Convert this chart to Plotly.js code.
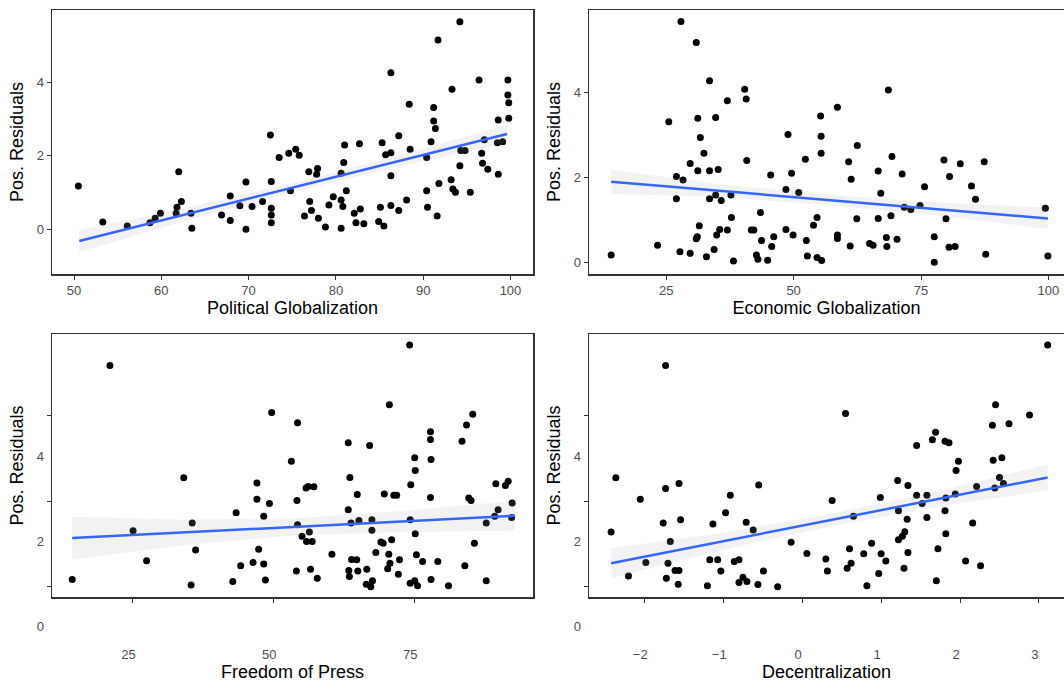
<!DOCTYPE html>
<html><head><meta charset="utf-8">
<script src="https://cdn.plot.ly/plotly-3.0.1.min.js"></script>
<style>html,body{margin:0;padding:0;background:#fff;} #chart{width:1064px;height:682px;}</style>
</head><body><div id="chart"></div>
<script>
// ---------- Panel 1: Political Globalization ----------
const polX = [50.5,53.3,56.1,58.7,59.9,59.3,62.0,61.8,61.7,62.3,63.5,63.4,66.9,67.9,67.9,69.0,69.7,69.7,70.4,71.6,72.5,72.6,72.6,72.6,72.6,73.5,74.6,75.4,75.8,74.8,76.9,77.9,77.8,77.0,77.2,76.4,78.0,78.8,79.7,79.2,80.6,80.6,80.8,80.6,80.9,81.0,81.2,82.1,82.8,82.7,82.3,83.2,85.1,85.3,85.7,86.3,86.3,86.3,86.3,84.9,85.5,87.2,87.2,88.1,88.4,88.5,90.4,90.4,90.5,90.9,91.2,91.2,91.4,91.7,91.8,91.6,93.2,93.3,93.4,93.7,94.2,94.2,94.3,94.8,95.4,96.4,96.7,96.8,97.4,97.0,98.6,98.6,98.5,99.7,99.7,99.8,99.8,99.1];
const polY = [1.18,0.2,0.09,0.18,0.44,0.3,1.57,0.6,0.44,0.76,0.03,0.44,0.39,0.91,0.24,0.64,1.29,0.0,0.62,0.76,2.57,1.3,0.57,0.39,0.18,1.96,2.07,2.18,2.02,1.05,1.57,1.66,1.5,0.76,0.51,0.36,0.3,0.06,0.89,0.66,1.53,0.8,0.62,0.03,1.82,2.3,1.05,0.44,0.55,2.33,0.18,0.15,0.6,2.36,2.03,2.09,4.27,1.46,0.65,0.21,0.09,0.51,2.55,0.8,3.41,2.18,1.96,1.05,0.6,2.39,3.32,2.95,2.75,5.16,1.25,0.36,1.35,3.82,1.1,1.01,5.66,1.73,2.15,2.15,1.01,4.07,2.07,1.8,1.64,2.44,2.98,1.5,2.36,4.07,3.66,3.45,3.03,2.39];
const polFitX = [50.6, 99.6];
const polFitY = [-0.32, 2.6];
const polBandX  = [50.6, 62.85, 75.1, 87.35, 99.6];
const polBandLo = [-0.62, 0.23, 1.02, 1.72, 2.35];
const polBandHi = [-0.02, 0.59, 1.26, 2.02, 2.85];
const polTicks = [50, 60, 70, 80, 90, 100];

// ---------- Panel 2: Economic Globalization ----------
const econX = [14.2,23.3,25.5,27.0,28.3,27.0,27.7,27.9,29.7,29.7,30.9,31.2,31.7,31.2,32.4,31.5,31.1,30.9,32.9,33.5,33.5,33.5,34.7,35.2,34.7,35.8,34.9,35.5,34.4,37.0,37.7,37.8,37.0,38.2,40.4,40.7,40.8,41.7,42.2,43.5,43.7,42.7,43.0,44.9,45.5,46.1,45.7,48.9,48.5,48.5,49.6,49.9,51.0,52.3,52.5,52.7,53.9,54.6,54.6,55.5,55.3,55.4,55.4,58.6,58.6,58.6,60.8,61.3,61.1,62.5,62.4,64.9,65.6,66.6,67.1,66.6,68.2,68.3,68.6,69.3,69.1,70.3,71.3,71.7,73.0,74.8,75.7,77.6,77.6,79.5,79.9,80.6,80.5,81.7,82.7,84.9,85.7,87.4,87.7,99.4,99.9];
const econY = [0.18,0.41,3.31,2.02,1.94,1.5,0.26,5.66,2.33,0.22,5.17,3.39,2.94,2.16,2.57,0.87,0.61,0.56,0.14,4.27,2.16,1.5,3.41,2.19,1.59,1.46,0.65,0.78,0.31,3.8,1.59,1.06,0.77,0.04,4.07,3.84,2.4,0.77,0.77,1.18,0.52,0.18,0.08,0.06,2.06,0.61,0.38,3.01,1.72,0.78,2.1,0.65,1.65,2.43,0.52,0.16,0.88,1.06,0.12,0.05,3.44,2.97,2.57,3.65,0.65,0.57,2.37,1.96,0.39,2.75,1.03,0.45,0.41,2.15,1.63,1.04,0.59,0.38,4.05,2.49,1.1,0.55,2.08,1.3,1.25,1.34,1.78,0.61,0.01,2.41,1.03,2.02,0.36,0.38,2.32,1.8,1.49,2.37,0.2,1.28,0.16];
const econFitX = [14.2, 99.9];
const econFitY = [1.9, 1.04];
const econBandX  = [14.2, 35.6, 57.05, 78.5, 99.9];
const econBandLo = [1.62, 1.54, 1.35, 1.11, 0.79];
const econBandHi = [2.18, 1.84, 1.59, 1.41, 1.29];
const econTicks = [25, 50, 75, 100];

// ---------- Panel 3: Freedom of Press ----------
const pressX = [14.3,21.0,25.1,27.5,34.1,35.6,36.2,35.4,42.8,43.4,44.2,46.4,47.1,47.1,47.4,48.3,48.3,48.6,49.3,49.7,53.2,54.3,54.2,54.3,54.1,55.1,55.8,56.2,57.2,56.4,55.9,56.9,56.6,57.8,60.4,63.3,63.6,63.3,63.8,63.9,64.8,64.9,65.2,63.4,63.5,65.0,66.6,67.1,67.5,67.5,66.5,67.3,67.6,68.2,69.1,69.5,69.7,70.5,70.7,70.3,71.0,71.4,71.9,70.6,72.4,72.2,74.2,74.4,74.3,75.1,75.2,75.2,75.4,74.3,75.1,75.6,76.5,77.9,77.9,78.0,77.9,78.0,79.2,81.1,83.5,84.3,84.0,85.4,84.7,85.1,85.7,87.8,87.8,89.3,89.9,89.5,91.2,91.7,92.4,92.3];
const pressY = [0.17,5.18,1.31,0.61,2.55,1.49,0.86,0.04,0.12,1.73,0.49,0.57,2.43,2.05,0.88,1.65,0.53,0.16,1.95,4.08,2.94,3.84,2.02,1.45,0.37,1.18,2.31,2.35,2.34,1.28,1.06,1.06,0.41,0.2,0.76,3.37,2.56,1.8,1.49,0.64,0.63,2.16,1.55,0.38,0.24,0.37,0.41,3.31,1.57,1.32,0.06,0.0,0.14,0.8,1.05,1.02,2.17,0.76,0.55,0.42,1.1,2.14,2.14,4.26,0.63,0.29,5.66,2.39,1.57,3.02,2.72,1.24,0.75,0.08,0.14,0.02,0.59,3.63,3.45,2.98,2.09,0.17,0.59,0.02,3.41,3.79,0.49,4.04,2.08,2.02,1.02,1.49,0.14,1.65,1.8,2.41,2.37,2.47,1.96,1.62];
const pressFitX = [14.3, 92.9];
const pressFitY = [1.14, 1.66];
const pressBandX  = [14.3, 33.95, 53.6, 73.25, 92.9];
const pressBandLo = [0.64, 0.97, 1.2, 1.28, 1.31];
const pressBandHi = [1.64, 1.57, 1.6, 1.78, 2.01];
const pressTicks = [25, 50, 75];

// ---------- Panel 4: Decentralization ----------
const decX = [-2.42,-2.36,-2.2,-2.05,-1.98,-1.76,-1.73,-1.73,-1.70,-1.72,-1.67,-1.61,-1.56,-1.56,-1.54,-1.57,-1.2,-1.17,-1.07,-1.13,-1.03,-0.97,-0.91,-0.86,-0.80,-0.80,-0.75,-0.71,-0.70,-0.62,-0.56,-0.55,-0.49,-0.31,-0.14,0.06,0.30,0.32,0.38,0.55,0.57,0.60,0.62,0.65,0.78,0.82,0.88,0.97,0.99,1.0,1.06,1.21,1.22,1.22,1.27,1.30,1.29,1.33,1.34,1.34,1.45,1.45,1.52,1.58,1.58,1.65,1.69,1.72,1.70,1.81,1.86,1.82,1.81,1.82,1.94,1.95,1.98,2.07,2.16,2.21,2.26,2.41,2.42,2.44,2.45,2.50,2.53,2.55,2.62,2.88,3.11];
const decY = [1.28,2.55,0.25,2.05,0.57,1.49,5.18,2.3,0.55,0.2,1.06,0.38,0.38,2.42,1.57,0.06,0.02,0.63,0.63,1.47,0.37,1.73,2.14,0.59,0.63,0.1,0.22,1.51,0.12,1.33,0.05,2.38,0.37,0.0,1.04,0.78,0.65,0.37,2.02,4.06,0.43,0.89,0.55,1.65,0.77,0.02,1.02,0.31,2.09,0.77,0.6,2.49,1.78,1.1,1.18,1.29,0.43,1.58,0.8,2.37,3.31,2.14,1.95,2.14,1.62,3.44,3.62,0.89,0.14,3.41,3.37,2.08,1.78,1.24,2.17,2.72,2.94,0.6,1.49,2.35,0.49,3.78,2.96,2.31,4.26,2.56,3.02,2.42,3.82,4.02,5.66];
const decFitX = [-2.42, 3.11];
const decFitY = [0.55, 2.56];
const decBandX  = [-2.42, -1.04, 0.345, 1.73, 3.11];
const decBandLo = [0.2, 0.85, 1.405, 1.88, 2.26];
const decBandHi = [0.9, 1.25, 1.705, 2.24, 2.86];
const decTicks = [-2, -1, 0, 1, 2, 3];

const yTicks = [0, 2, 4];

// ---------- styling / layout ----------
const W = 1064, H = 682;
const dx = (a, b) => [a / W, b / W];
const dy = (top, bottom) => [1 - bottom / H, 1 - top / H];
const FONT = 'Liberation Sans, Arial, Helvetica, sans-serif';
const tickFont = {family: FONT, size: 13, color: '#4d4d4d'};
const titleFont = {family: FONT, size: 18, color: '#000000'};
const LINEC = '#333333';

function panelTraces(xs, ys, bx, lo, hi, fx, fy, xa, ya) {
  return [
    {type: 'scatter', mode: 'markers', x: xs, y: ys, xaxis: xa, yaxis: ya,
     marker: {color: '#000000', size: 7}, hoverinfo: 'skip', cliponaxis: true},
    {type: 'scatter', mode: 'lines', x: bx.concat(bx.slice().reverse()), y: lo.concat(hi.slice().reverse()),
     xaxis: xa, yaxis: ya, fill: 'toself', fillcolor: 'rgba(170,170,180,0.15)', line: {width: 0}, hoverinfo: 'skip'},
    {type: 'scatter', mode: 'lines', x: fx, y: fy, xaxis: xa, yaxis: ya,
     line: {color: '#3366FF', width: 2.5}, hoverinfo: 'skip'}
  ];
}

const data = [].concat(
  panelTraces(polX, polY, polBandX, polBandLo, polBandHi, polFitX, polFitY, 'x', 'y'),
  panelTraces(econX, econY, econBandX, econBandLo, econBandHi, econFitX, econFitY, 'x2', 'y2'),
  panelTraces(pressX, pressY, pressBandX, pressBandLo, pressBandHi, pressFitX, pressFitY, 'x3', 'y3'),
  panelTraces(decX, decY, decBandX, decBandLo, decBandHi, decFitX, decFitY, 'x4', 'y4')
);

function xAxis(domain, range, ticks, title, anchor, displaced) {
  const a = {domain, range, tickvals: ticks, anchor, showgrid: false, zeroline: false,
    showline: true, mirror: true, linecolor: LINEC, linewidth: 1.5,
    ticks: 'outside', ticklen: 4, tickwidth: 1, tickcolor: LINEC, tickfont: tickFont,
    title: {text: title, font: titleFont, standoff: displaced ? 7 : 3}};
  if (displaced) { a.ticklabelstandoff = 41; a.ticklabelshift = -4; }
  return a;
}
function yAxis(domain, range, title, anchor, mirror, displaced) {
  const a = {domain, range, tickvals: yTicks, anchor, showgrid: false, zeroline: false,
    showline: true, mirror: mirror, linecolor: LINEC, linewidth: 1.5,
    ticks: 'outside', ticklen: 4, tickwidth: 1, tickcolor: LINEC, tickfont: tickFont,
    title: {text: title, font: titleFont, standoff: 8}};
  if (displaced) { a.ticklabelshift = 40; }
  return a;
}

const layout = {
  width: W, height: H, margin: {l: 0, r: 0, t: 0, b: 0},
  paper_bgcolor: '#ffffff', plot_bgcolor: '#ffffff', showlegend: false,
  font: {family: FONT},
  xaxis:  xAxis(dx(52, 533), [47.48, 102.58], polTicks, 'Political Globalization', 'y', false),
  yaxis:  yAxis(dy(10, 274), [-1.22, 5.98], 'Pos. Residuals', 'x', true, false),
  xaxis2: xAxis(dx(589, 1064), [9.85, 103.06], econTicks, 'Economic Globalization', 'y2', false),
  yaxis2: yAxis(dy(10, 274), [-0.265, 5.93], 'Pos. Residuals', 'x2', false, false),
  xaxis3: xAxis(dx(52, 533), [10.71, 96.1], pressTicks, 'Freedom of Press', 'y3', true),
  yaxis3: yAxis(dy(334, 597), [-0.241, 5.92], 'Pos. Residuals', 'x3', true, true),
  xaxis4: xAxis(dx(589, 1064), [-2.70, 3.317], decTicks, 'Decentralization', 'y4', true),
  yaxis4: yAxis(dy(334, 597), [-0.241, 5.92], 'Pos. Residuals', 'x4', false, true)
};

Plotly.newPlot('chart', data, layout, {displayModeBar: false, staticPlot: true});
</script>
</body></html>
